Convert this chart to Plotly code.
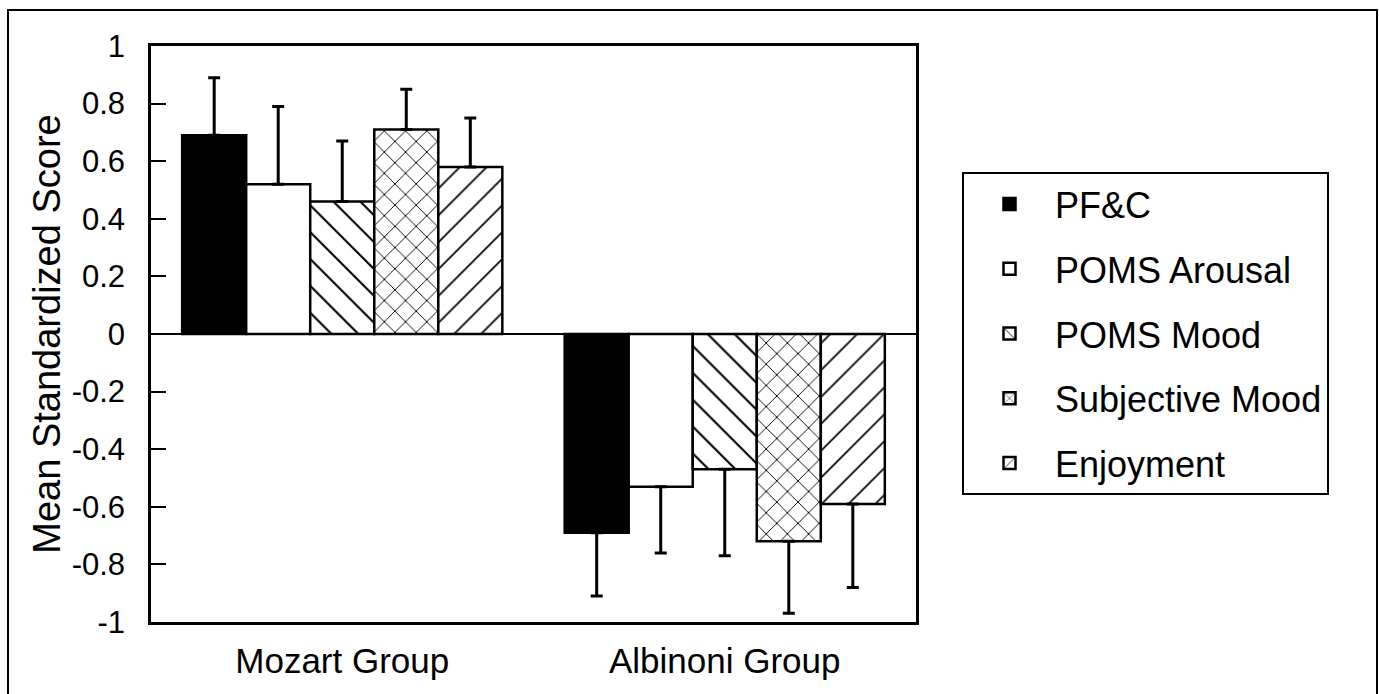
import plotly.graph_objects as go

groups = ["Mozart Group", "Albinoni Group"]
series = ["PF&C", "POMS Arousal", "POMS Mood", "Subjective Mood", "Enjoyment"]
mozart_means = [0.69, 0.52, 0.46, 0.71, 0.58]
mozart_errs = [0.20, 0.27, 0.21, 0.14, 0.17]
albinoni_means = [-0.69, -0.53, -0.47, -0.72, -0.59]
albinoni_errs = [0.22, 0.23, 0.30, 0.25, 0.29]
tick_vals = [1, 0.8, 0.6, 0.4, 0.2, 0, -0.2, -0.4, -0.6, -0.8, -1]
tick_text = ["1", "0.8", "0.6", "0.4", "0.2", "0", "-0.2", "-0.4", "-0.6", "-0.8", "-1"]

fills = ["black", "white", "white", "white", "white"]
shapes = ["", "", "\\", "x", "/"]
psizes = [10, 10, 19, 15, 19]
psolid = [0.12, 0.12, 0.11, 0.12, 0.09]

FONT = "Liberation Sans, Arial, Helvetica, sans-serif"

W, H = 1379, 694
L, T = 151, 46
PW, PH = 765, 576

fig = go.Figure()
for i, name in enumerate(series):
    vals = [mozart_means[i], albinoni_means[i]]
    errs = [mozart_errs[i], albinoni_errs[i]]
    plus = [e if v > 0 else 0 for v, e in zip(vals, errs)]
    minus = [e if v < 0 else 0 for v, e in zip(vals, errs)]
    fig.add_trace(go.Bar(
        x=groups, y=vals, name=name, legendgroup=name,
        marker=dict(color=fills[i], line=dict(color="black", width=2.5),
                    pattern=dict(shape=shapes[i], fgcolor="black", bgcolor="white",
                                 fgopacity=1, size=psizes[i], solidity=psolid[i])),
        error_y=dict(type="data", symmetric=False, array=plus, arrayminus=minus,
                     color="black", thickness=3, width=6),
        hoverinfo="skip",
    ))

fig.update_layout(
    width=W, height=H,
    margin=dict(l=L, r=W - L - PW, t=T, b=H - T - PH),
    paper_bgcolor="white", plot_bgcolor="white",
    barmode="group", bargap=0.163, bargroupgap=0,
    font=dict(family=FONT, color="black"),
    showlegend=True,
    legend=dict(x=(962 - L) / PW, y=(T + PH - 172) / PH, xanchor="left", yanchor="top",
                bordercolor="black", borderwidth=2, bgcolor="white",
                font=dict(size=36, family=FONT, color="black"),
                itemwidth=81, tracegroupgap=15, traceorder="grouped"),
    shapes=[dict(type="rect", xref="paper", yref="paper",
                 x0=(8 - L) / PW, x1=(1377 - L) / PW,
                 y0=-0.3, y1=(T + PH - 10) / PH,
                 line=dict(color="black", width=2), layer="below")],
)
fig.update_xaxes(showline=True, mirror=True, linecolor="black", linewidth=2.5,
                 ticks="", tickfont=dict(size=35, family=FONT, color="black"),
                 ticklabelstandoff=6, showgrid=False, automargin=False)
fig.update_yaxes(range=[-1, 1], showline=True, mirror=True, linecolor="black", linewidth=2.5,
                 ticks="inside", ticklen=15, tickwidth=2, tickcolor="black",
                 tickvals=tick_vals, ticktext=tick_text,
                 tickfont=dict(size=31, family=FONT, color="black"),
                 ticklabelstandoff=17, showgrid=False, automargin=False,
                 zeroline=True, zerolinecolor="black", zerolinewidth=2,
                 title=dict(text="Mean Standardized Score", standoff=0,
                            font=dict(size=38, family=FONT, color="black")))

fig.write_html(
    "out.html",
    config={"displayModeBar": False},
    post_script="document.body.style.margin='0';document.body.style.overflow='hidden';",
)
